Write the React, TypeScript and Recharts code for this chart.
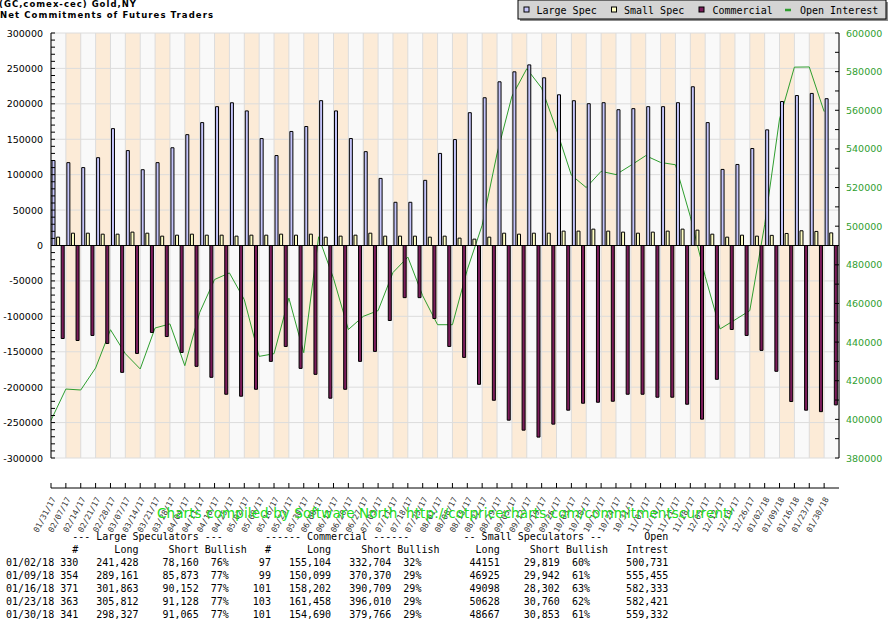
import React from 'react'
import { ComposedChart, Bar, Line, XAxis, YAxis, CartesianGrid, ReferenceLine } from 'recharts'

const dates = [
  '01/31/17', '02/07/17', '02/14/17', '02/21/17', '02/28/17', '03/07/17', '03/14/17', '03/21/17', '03/28/17', '04/04/17',
  '04/11/17', '04/18/17', '04/25/17', '05/02/17', '05/09/17', '05/16/17', '05/23/17', '05/30/17', '06/06/17', '06/13/17',
  '06/20/17', '06/27/17', '07/03/17', '07/11/17', '07/18/17', '07/25/17', '08/01/17', '08/08/17', '08/15/17', '08/22/17',
  '08/29/17', '09/05/17', '09/12/17', '09/19/17', '09/26/17', '10/03/17', '10/10/17', '10/17/17', '10/24/17', '10/31/17',
  '11/07/17', '11/14/17', '11/21/17', '11/28/17', '12/05/17', '12/12/17', '12/19/17', '12/26/17', '01/02/18', '01/09/18',
  '01/16/18', '01/23/18', '01/30/18'
]

const largeSpec = [
  120000, 117000, 110000, 124000, 165000, 134000, 107000, 117000, 138000, 156500,
  173500, 196000, 201500, 190000, 151000, 127000, 161000, 168000, 204500, 190000,
  151000, 132500, 94700, 61000, 61000, 92000, 130000, 149600, 187500, 208600,
  231100, 245200, 255000, 236800, 212800, 204400, 200200, 201600, 191700, 193200,
  196000, 196000, 201600, 224100, 173500, 107400, 114400, 136900, 163268, 203288,
  211711, 214684, 207262
]

const smallSpec = [
  11800, 17400, 17400, 16000, 16000, 18900, 17400, 13200, 14600, 16000,
  14600, 14600, 13200, 14600, 14600, 16000, 14600, 16000, 11800, 13200,
  14600, 17400, 13200, 13200, 13200, 11800, 13200, 10400, 9000, 11800,
  17400, 16000, 17400, 17400, 20300, 20300, 23100, 20300, 18900, 17400,
  18900, 20300, 23100, 21700, 16000, 11800, 14600, 13200, 14332, 16983,
  20796, 19868, 17814
]

const commercial = [
  -131300, -134100, -127000, -138300, -179100, -152400, -122800, -128500, -151000, -170600,
  -186100, -210000, -212800, -203000, -163600, -142500, -173500, -181900, -215600, -203000,
  -163600, -149500, -105900, -73600, -73600, -103100, -142500, -158000, -196000, -218500,
  -246600, -260700, -270500, -252200, -232500, -222700, -221300, -219900, -210000, -210000,
  -214200, -214200, -224100, -245200, -188900, -118600, -127000, -148100, -177600, -220271,
  -232507, -234552, -225076
]

const openInterest = [
  399500, 415700, 415200, 426600, 446400, 434000, 426100, 447300, 449400, 427800,
  455300, 472400, 475800, 462000, 432600, 434000, 462800, 434500, 494500, 473000,
  446500, 453300, 456300, 476000, 484000, 464000, 449000, 449000, 477500, 500500,
  537500, 567200, 581500, 571500, 550000, 526400, 520000, 528400, 526700, 531500,
  536500, 533000, 531800, 505000, 474000, 446800, 451500, 456300, 500731, 555455,
  582333, 582421, 559332
]

const leftLabelTicks = [-300000, -250000, -200000, -150000, -100000, -50000, 0, 50000, 100000, 150000, 200000, 250000, 300000]

// minor tick marks every 10000 on both axes
const leftTicks = Array.from({ length: 61 }, (_, i) => -300000 + i * 10000)
const rightTicks = Array.from({ length: 23 }, (_, i) => 380000 + i * 10000)

// table under the chart
const tableDates = ['01/02/18', '01/09/18', '01/16/18', '01/23/18', '01/30/18']
const lsTraders = [330, 354, 371, 363, 341]
const lsLong = [241428, 289161, 301863, 305812, 298327]
const lsShort = [78160, 85873, 90152, 91128, 91065]
const lsBull = [76, 77, 77, 77, 77]
const cmTraders = [97, 99, 101, 103, 101]
const cmLong = [155104, 150099, 158202, 161458, 154690]
const cmShort = [332704, 370370, 390709, 396010, 379766]
const cmBull = [32, 29, 29, 29, 29]
const ssLong = [44151, 46925, 49098, 50628, 48667]
const ssShort = [29819, 29942, 28302, 30760, 30853]
const ssBull = [60, 61, 63, 62, 61]
const oiTable = [500731, 555455, 582333, 582421, 559332]

const data = dates.map((d, i) => ({
  idx: i,
  date: d,
  large: largeSpec[i],
  small: smallSpec[i],
  comm: commercial[i],
  oi: openInterest[i]
}))

const fmt = (n: number) => n.toLocaleString('en-US')

const place = (parts: [number, string][]) => {
  let s = ''
  for (const [col, t] of parts) s = s.padEnd(col) + t
  return s
}

const headerRows = [
  place([[11, '--- Large Speculators ---'], [43, '------ Commercial ------'], [76, '-- Small Speculators --'], [106, 'Open']]),
  place([[11, '#'], [18, 'Long'], [27, 'Short'], [33, 'Bullish'], [43, '#'], [50, 'Long'], [59, 'Short'], [65, 'Bullish'],
    [78, 'Long'], [87, 'Short'], [93, 'Bullish'], [103, 'Intrest']])
]

const tableRows = tableDates.map((d, i) =>
  d +
  String(lsTraders[i]).padStart(4) +
  fmt(lsLong[i]).padStart(10) +
  fmt(lsShort[i]).padStart(10) +
  (lsBull[i] + '%').padStart(5) +
  String(cmTraders[i]).padStart(7) +
  fmt(cmLong[i]).padStart(10) +
  fmt(cmShort[i]).padStart(10) +
  (cmBull[i] + '%').padStart(5) +
  String(ssLong[i]).padStart(13) +
  fmt(ssShort[i]).padStart(10) +
  (ssBull[i] + '%').padStart(5) +
  fmt(oiTable[i]).padStart(13)
)

const COLORS = {
  large: '#c4c4fa',
  small: '#ffffc4',
  comm: '#7b1c5a',
  oi: '#2f9e2f',
  grid: '#dcdcdc',
  bandA: '#f9f9f9',
  bandB: '#fcebd7'
}

const axisFont = '"DejaVu Sans", sans-serif'
const monoFont = '"DejaVu Sans Mono", monospace'

const LeftTick = (props: any) => {
  const { x, y, payload } = props
  const showLabel = payload.value % 50000 === 0
  return (
    <g>
      <line x1={x + 8} x2={x + 12} y1={y} y2={y} stroke="#000" />
      {showLabel && (
        <text x={x} y={y + 3.5} textAnchor="end" fontSize={9.5} fontFamily={axisFont} fill="#000">
          {payload.value}
        </text>
      )}
    </g>
  )
}

const RightTick = (props: any) => {
  const { x, y, payload } = props
  const showLabel = payload.value % 20000 === 0
  return (
    <g>
      <line x1={x - 7} x2={x - 11} y1={y} y2={y} stroke="#000" />
      {showLabel && (
        <text x={x} y={y + 3.5} textAnchor="start" fontSize={9.5} fontFamily={axisFont} fill="#2f9e2f">
          {payload.value}
        </text>
      )}
    </g>
  )
}

const DateTick = (props: any) => {
  const { x, y, payload } = props
  const label = dates[payload.value]
  const tx = x + 5
  const ty = y + 11
  return (
    <g>
      <line x1={x} x2={x} y1={y} y2={y - 5} stroke="#000" />
      {label && (
        <text x={tx} y={ty} textAnchor="end" fontSize={8} fontFamily={monoFont} fill="#333"
          transform={`rotate(-62 ${tx} ${ty})`}>
          {label}
        </text>
      )}
    </g>
  )
}

const legendItems = [
  { name: 'Large Spec', color: COLORS.large, mx: 524, tx: 536.5 },
  { name: 'Small Spec', color: COLORS.small, mx: 611.5, tx: 624 },
  { name: 'Commercial', color: COLORS.comm, mx: 699, tx: 712.5 }
]

const App: React.FC = () => {
  return (
    <div style={{ position: 'absolute', left: 0, top: 0, width: 889, height: 620, background: '#fff' }}>
      <ComposedChart
        width={889}
        height={620}
        data={data}
        margin={{ top: 33, right: 0, bottom: 102, left: 0 }}
        barSize={3}
        barGap={1.6}
      >
        <CartesianGrid
          xAxisId="num"
          yAxisId="left"
          stroke={COLORS.grid}
          verticalFill={[COLORS.bandA, COLORS.bandB]}
          fillOpacity={1}
          horizontalValues={leftLabelTicks}
        />
        <XAxis xAxisId="cat" dataKey="date" hide />
        <XAxis
          xAxisId="num"
          dataKey="idx"
          type="number"
          domain={[0, dates.length]}
          ticks={dates.map((_, i) => i)}
          interval={0}
          tickSize={0}
          tickMargin={0}
          height={60}
          axisLine={{ stroke: '#000' }}
          tickLine={false}
          tick={DateTick}
        />
        <YAxis
          yAxisId="left"
          domain={[-300000, 300000]}
          ticks={leftTicks}
          interval={0}
          width={51}
          tickSize={0}
          tickMargin={8}
          axisLine={{ stroke: '#000' }}
          tickLine={false}
          tick={LeftTick}
          allowDataOverflow
        />
        <YAxis
          yAxisId="right"
          orientation="right"
          domain={[380000, 600000]}
          ticks={rightTicks}
          interval={0}
          width={50}
          tickSize={0}
          tickMargin={7}
          axisLine={{ stroke: '#000' }}
          tickLine={false}
          tick={RightTick}
          allowDataOverflow
        />
        <Line
          xAxisId="num"
          yAxisId="right"
          dataKey="oi"
          stroke={COLORS.oi}
          strokeWidth={1}
          dot={false}
          activeDot={false}
          isAnimationActive={false}
          zIndex={250}
        />
        <Bar xAxisId="cat" yAxisId="left" dataKey="large" fill={COLORS.large} stroke="#000" strokeWidth={1} isAnimationActive={false} />
        <Bar xAxisId="cat" yAxisId="left" dataKey="small" fill={COLORS.small} stroke="#000" strokeWidth={1} isAnimationActive={false} />
        <Bar xAxisId="cat" yAxisId="left" dataKey="comm" fill={COLORS.comm} stroke="#000" strokeWidth={1} isAnimationActive={false} />
        <ReferenceLine xAxisId="num" yAxisId="left" y={0} stroke="#000" />
      </ComposedChart>

      <svg width={889} height={620} style={{ position: 'absolute', left: 0, top: 0, pointerEvents: 'none' }}>
        {/* title */}
        <text x={-1} y={7} fontSize={8.5} fontWeight="bold" fontFamily={axisFont} fill="#000" textLength={137} lengthAdjust="spacing">
          (GC,comex-cec) Gold,NY
        </text>
        <text x={0} y={17.5} fontSize={8.5} fontWeight="bold" fontFamily={axisFont} fill="#000" textLength={213} lengthAdjust="spacing">
          Net Commitments of Futures Traders
        </text>

        {/* legend */}
        <rect x={520} y={2} width={368} height={19} fill="#8c8c8c" />
        <rect x={518} y={0} width={368} height={19} fill="#d4d4d4" stroke="#000" />
        {legendItems.map((it) => (
          <g key={it.name}>
            <rect x={it.mx} y={7} width={5} height={5} fill={it.color} stroke="#000" />
            <text x={it.tx} y={13.5} fontSize={10} fontFamily={monoFont} fill="#000">{it.name}</text>
          </g>
        ))}
        <line x1={785} x2={791} y1={10} y2={10} stroke={COLORS.oi} strokeWidth={2.5} />
        <text x={800} y={13.5} fontSize={10} fontFamily={monoFont} fill="#000">Open Interest</text>

        {/* credit line */}
        <text x={157} y={518} fontSize={13.5} fontFamily={axisFont} fill="#22dd22" textLength={576} lengthAdjust="spacing"
          style={{ whiteSpace: 'pre' }}>
          {'Charts compiled by Software North  http://cotpricecharts.com/commitmentscurrent/'}
        </text>

        {/* table */}
        {[...headerRows, ...tableRows].map((r, i) => (
          <text key={i} x={6} y={539.5 + i * 13} fontSize={10} fontFamily={monoFont} fill="#000"
            xmlSpace="preserve" style={{ whiteSpace: 'pre' }}>
            {r}
          </text>
        ))}
      </svg>
    </div>
  )
}

export default App
